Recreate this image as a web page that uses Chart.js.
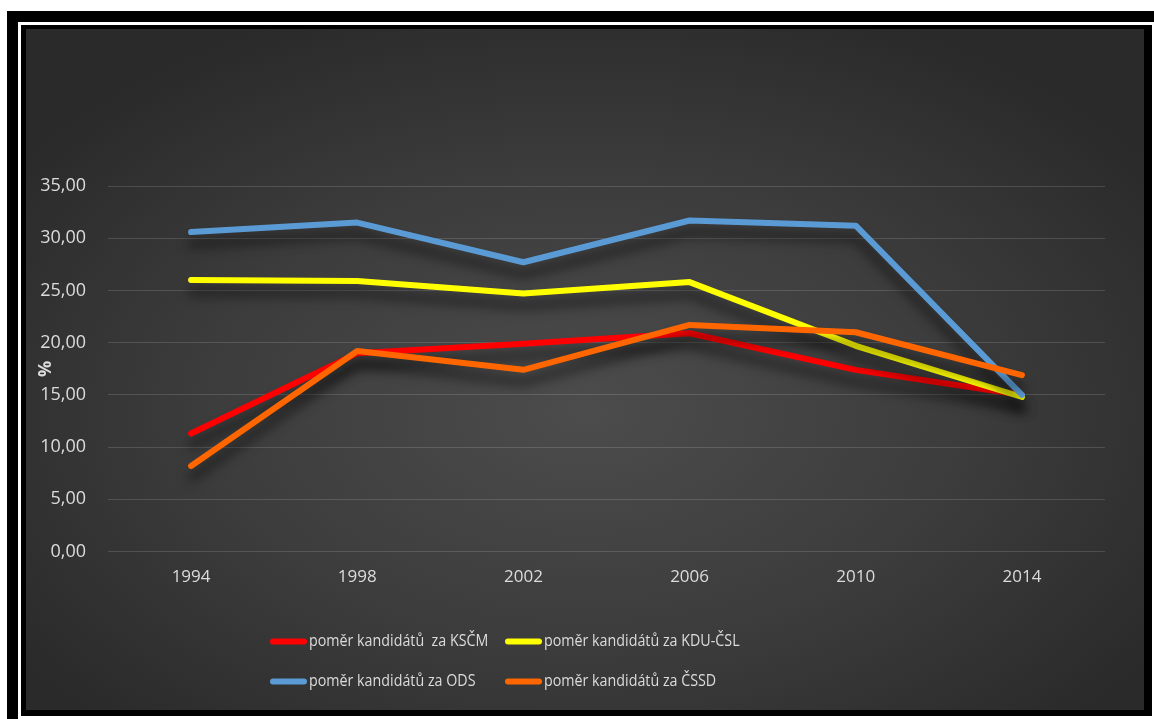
<!DOCTYPE html>
<html>
<head>
<meta charset="utf-8">
<script src="https://cdn.jsdelivr.net/npm/chart.js@4/dist/chart.umd.min.js"></script>
<style>
  html, body { margin:0; padding:0; background:#fff; width:1154px; height:719px; overflow:hidden; }
  #outer { position:absolute; left:7px; top:11px; width:1160px; height:720px; background:#000; }
  #wline { position:absolute; left:18px; top:22px; width:1131px; height:691px; border:3px solid #fff; background:#000; box-sizing:content-box; }
  #c { position:absolute; left:26px; top:29px; }
</style>
</head>
<body>
<div id="outer"></div>
<div id="wline"></div>
<canvas id="c" width="1118" height="681"></canvas>
<script>
const years = ['1994', '1998', '2002', '2006', '2010', '2014'];
const kscm = [11.3, 19.0, 19.9, 20.9, 17.4, 15.0];
const kduCsl = [26.0, 25.9, 24.7, 25.8, 19.7, 14.8];
const ods = [30.6, 31.5, 27.7, 31.7, 31.2, 15.0];
const cssd = [8.2, 19.2, 17.4, 21.7, 21.0, 16.9];
const seriesLabels = ['poměr kandidátů  za KSČM', 'poměr kandidátů za KDU-ČSL', 'poměr kandidátů za ODS', 'poměr kandidátů za ČSSD'];
const yTicks = { min: 0, max: 35, step: 5 };
const yTitle = '%';

const FONT = '"Open Sans", "Liberation Sans", sans-serif';
const TXT = '#dcdcdc';

const bgPlugin = {
  id: 'bg',
  beforeDraw(chart) {
    const ctx = chart.ctx, w = chart.width, h = chart.height;
    ctx.save();
    ctx.fillStyle = '#2a2a2a';
    ctx.fillRect(0, 0, w, h);
    ctx.translate(w * 0.5, h * 0.56);
    ctx.scale(1, 0.62);
    const g = ctx.createRadialGradient(0, 0, 0, 0, 0, w * 0.62);
    g.addColorStop(0, '#4c4c4c');
    g.addColorStop(0.55, '#3c3c3c');
    g.addColorStop(1, '#2a2a2a');
    ctx.fillStyle = g;
    ctx.fillRect(-w, -h * 2, w * 2, h * 4);
    ctx.restore();
  }
};

const shadowPlugin = {
  id: 'shadow',
  beforeDatasetDraw(chart) {
    const ctx = chart.ctx;
    ctx.save();
    ctx.shadowColor = 'rgba(0,0,0,0.6)';
    ctx.shadowBlur = 12;
    ctx.shadowOffsetX = 0;
    ctx.shadowOffsetY = 12;
  },
  afterDatasetDraw(chart) {
    chart.ctx.restore();
  }
};

const extrasPlugin = {
  id: 'extras',
  afterDraw(chart) {
    const ctx = chart.ctx, ca = chart.chartArea, ys = chart.scales.y;
    ctx.save();
    ctx.fillStyle = TXT;
    ctx.font = 'bold 18px ' + FONT;
    ctx.textAlign = 'center';
    ctx.textBaseline = 'middle';
    ctx.translate(ys.left + 8, (ca.top + ca.bottom) / 2);
    ctx.rotate(-Math.PI / 2);
    ctx.fillText(yTitle, 0, 0);
    ctx.restore();
    chart.data.datasets.forEach((ds, i) => {
      const col = i % 2, row = Math.floor(i / 2);
      const x0 = ca.left + 162 + col * 235;
      const y0 = ca.bottom + 90 + row * 40;
      ctx.save();
      ctx.strokeStyle = ds.borderColor;
      ctx.lineWidth = 6;
      ctx.lineCap = 'round';
      ctx.beginPath();
      ctx.moveTo(x0 + 3, y0);
      ctx.lineTo(x0 + 34, y0);
      ctx.stroke();
      ctx.fillStyle = TXT;
      ctx.font = '17px ' + FONT;
      ctx.textBaseline = 'middle';
      ctx.textAlign = 'left';
      ctx.translate(x0 + 39, y0);
      ctx.scale(0.84, 1);
      ctx.fillText(ds.label, 0, 0);
      ctx.restore();
    });
  }
};

const mk = (label, data, color, order) => ({
  label, data, borderColor: color, backgroundColor: color,
  borderWidth: 6, pointRadius: 0, pointHoverRadius: 0, tension: 0,
  borderCapStyle: 'round', borderJoinStyle: 'round', fill: false, order
});

new Chart(document.getElementById('c'), {
  type: 'line',
  data: {
    labels: years,
    datasets: [
      mk(seriesLabels[0], kscm, '#ff0000', 4),
      mk(seriesLabels[1], kduCsl, '#ffff00', 3),
      mk(seriesLabels[2], ods, '#5b9bd5', 2),
      mk(seriesLabels[3], cssd, '#ff6600', 1)
    ]
  },
  options: {
    responsive: false,
    animation: false,
    devicePixelRatio: 1,
    layout: { padding: { top: 157, left: 12, right: 39, bottom: 108 } },
    plugins: { legend: { display: false }, tooltip: { enabled: false } },
    scales: {
      x: {
        offset: true,
        grid: { display: false, drawTicks: false },
        border: { display: false },
        ticks: { color: TXT, font: { family: FONT, size: 17 }, padding: 15 }
      },
      y: {
        min: yTicks.min, max: yTicks.max,
        afterFit(s) { s.width = 70; },
        grid: { color: 'rgba(255,255,255,0.14)', lineWidth: 1, drawTicks: false },
        border: { display: false },
        ticks: {
          stepSize: yTicks.step, color: TXT, padding: 22,
          font: { family: FONT, size: 18 },
          callback: v => v.toFixed(2).replace('.', ',')
        }
      }
    }
  },
  plugins: [bgPlugin, shadowPlugin, extrasPlugin]
});
</script>
</body>
</html>
